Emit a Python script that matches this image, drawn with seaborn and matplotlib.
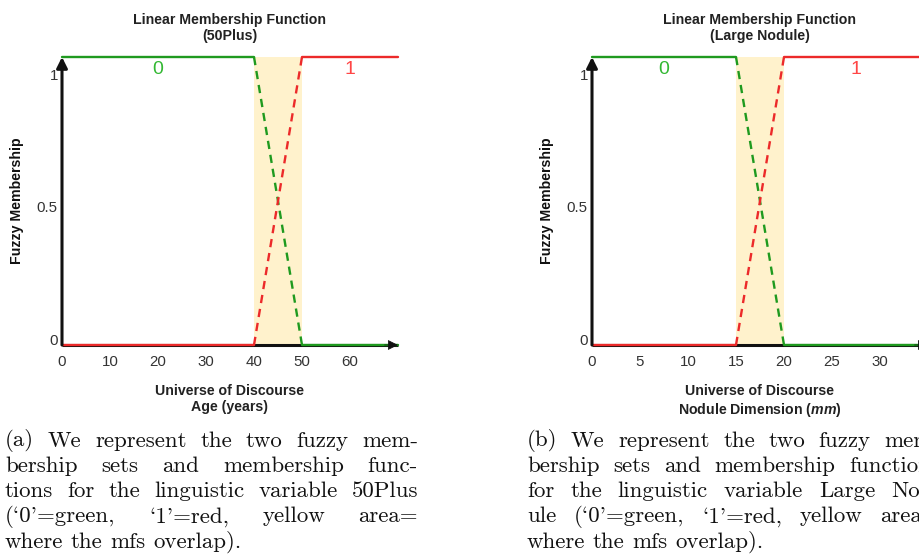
import numpy as np
import pandas as pd
import matplotlib
matplotlib.use("Agg")
import matplotlib.pyplot as plt
import seaborn as sns

# ------------------------------------
# Data
# ------------------------------------
age_ticks = [0, 10, 20, 30, 40, 50, 60]
age_low, age_high, age_max = 40, 50, 70

nod_ticks = [0, 5, 10, 15, 20, 25, 30]
nod_low, nod_high, nod_max = 15, 20, 35

y_tick_pos = [0.02, 0.48, 0.94]
y_tick_labels = ["0", "0.5", "1"]

titles = ["Linear Membership Function\n(50Plus)",
          "Linear Membership Function\n(Large Nodule)"]
xlabels = ["Universe of Discourse\nAge (years)",
           "Universe of Discourse\nNodule Dimension ($\\it{mm}$)"]

caption_a = [
    ("(a) We represent the two fuzzy mem-", True),
    ("bership sets and membership func-", True),
    ("tions for the linguistic variable 50Plus", True),
    ("(`0'=green, `1'=red, yellow area=", True),
    ("where the mfs overlap).", False),
]
caption_b = [
    ("(b) We represent the two fuzzy mem-", True),
    ("bership sets and membership functions", True),
    ("for the linguistic variable Large Nod-", True),
    ("ule (`0'=green, `1'=red, yellow area=", True),
    ("where the mfs overlap).", False),
]

GREEN = "#1f9a1f"
RED = "#ec2a2a"
GREEN_TXT = "#33b833"
RED_TXT = "#ff4646"
YELLOW = "#fff2cc"

sns.set_style("white")
plt.rcParams["font.family"] = ["Liberation Sans", "DejaVu Sans"]
plt.rcParams["mathtext.fontset"] = "custom"
plt.rcParams["mathtext.it"] = "Liberation Sans:italic:bold"
plt.rcParams["mathtext.rm"] = "Liberation Sans:bold"

W, H = 920, 554
fig = plt.figure(figsize=(W / 100, H / 100), dpi=100)


def membership_frame(low, high, xmax):
    # breakpoints of the two linear membership functions
    x = [0, low, high, xmax]
    zero = [1, 1, 0, 0]
    one = [0, 0, 1, 1]
    return pd.DataFrame({"x": x, "zero": zero, "one": one})


def draw_chart(ax, df, ticks, title, xlabel):
    low, high, xmax = df["x"].iloc[1], df["x"].iloc[2], df["x"].iloc[3]
    ax.set_xlim(0, xmax)
    ax.set_ylim(0, 1)

    # overlap area
    ax.fill_between([low, high], 0, 1, color=YELLOW, lw=0, zorder=0)

    # x axis shaft
    ax.plot([0, xmax], [0, 0], color="#111111", lw=2.2, zorder=1,
            solid_capstyle="butt", clip_on=False)

    solid = df.iloc[[0, 1]]
    trans = df.iloc[[1, 2]]
    tail = df.iloc[[2, 3]]
    for col, color in [("zero", GREEN), ("one", RED)]:
        for part, ls in [(solid, "-"), (trans, (0, (3.5, 2.5))), (tail, "-")]:
            sns.lineplot(data=part, x="x", y=col, ax=ax, color=color,
                         lw=1.7, linestyle=ls, zorder=3, clip_on=False,
                         estimator=None, sort=False)

    # y axis arrow
    ax.annotate("", xy=(0, 1), xytext=(0, 0),
                arrowprops=dict(arrowstyle="-|>", color="#111111", lw=2.2,
                                mutation_scale=16, shrinkA=0, shrinkB=0),
                zorder=5, annotation_clip=False)
    # x axis arrow head
    ax.annotate("", xy=(xmax, 0), xytext=(xmax * 0.96, 0),
                arrowprops=dict(arrowstyle="-|>", color="#111111", lw=0.5,
                                mutation_scale=16, shrinkA=0, shrinkB=0),
                zorder=5, annotation_clip=False)

    ax.text(low / 2, 0.955, "0", color=GREEN_TXT, fontsize=14,
            ha="center", va="center")
    ax.text((high + xmax) / 2, 0.955, "1", color=RED_TXT,
            fontsize=14, ha="center", va="center")

    ax.set_xticks(ticks)
    ax.set_xticklabels([str(t) for t in ticks])
    ax.set_yticks(y_tick_pos)
    ax.set_yticklabels(y_tick_labels)
    ax.tick_params(axis="both", length=0, labelsize=10.8, colors="#333333")
    ax.tick_params(axis="x", pad=7)
    ax.tick_params(axis="y", pad=3)

    ax.set_title(title, fontsize=10.2, fontweight="bold", color="#222222",
                 pad=12, linespacing=1.2)
    ax.set_xlabel(xlabel, fontsize=10.2, fontweight="bold", color="#222222",
                  labelpad=11, linespacing=1.2)
    ax.set_ylabel("Fuzzy Membership", fontsize=10.2, fontweight="bold",
                  color="#111111", labelpad=9)
    for s in ax.spines.values():
        s.set_visible(False)
    ax.set_facecolor("none")


ax_a = fig.add_axes([62 / W, (H - 345) / H, 336 / W, 288 / H])
draw_chart(ax_a, membership_frame(age_low, age_high, age_max),
           age_ticks, titles[0], xlabels[0])

ax_b = fig.add_axes([592 / W, (H - 345) / H, 336 / W, 288 / H])
draw_chart(ax_b, membership_frame(nod_low, nod_high, nod_max),
           nod_ticks, titles[1], xlabels[1])

# ------------------------------------
# Captions (justified lines)
# ------------------------------------
cap_size = 16.5
cap_font = dict(family=["cmr10", "DejaVu Serif"], fontsize=cap_size,
                color="#111111", va="center", ha="left")
renderer = fig.canvas.get_renderer()


def text_width(s):
    t = fig.text(0, 0, s, **cap_font)
    w = t.get_window_extent(renderer).width
    t.remove()
    return w


# TeX interword space is 1/3 em
space = cap_size * 100 / 72 / 3


def put_caption(lines, x0, y0, width, step):
    for i, (line, justify) in enumerate(lines):
        y = y0 + i * step
        words = line.split(" ")
        widths = [text_width(w) for w in words]
        if justify and len(words) > 1:
            gap = (width - sum(widths)) / (len(words) - 1)
        else:
            gap = space
        x = x0
        for w, wd in zip(words, widths):
            fig.text(x / W, 1 - y / H, w, **cap_font)
            x += wd + gap


put_caption(caption_a, 5, 441, 413, 25.2)
put_caption(caption_b, 527, 441, 413, 25.2)

plt.savefig("out.png", dpi=100)
plt.close()
